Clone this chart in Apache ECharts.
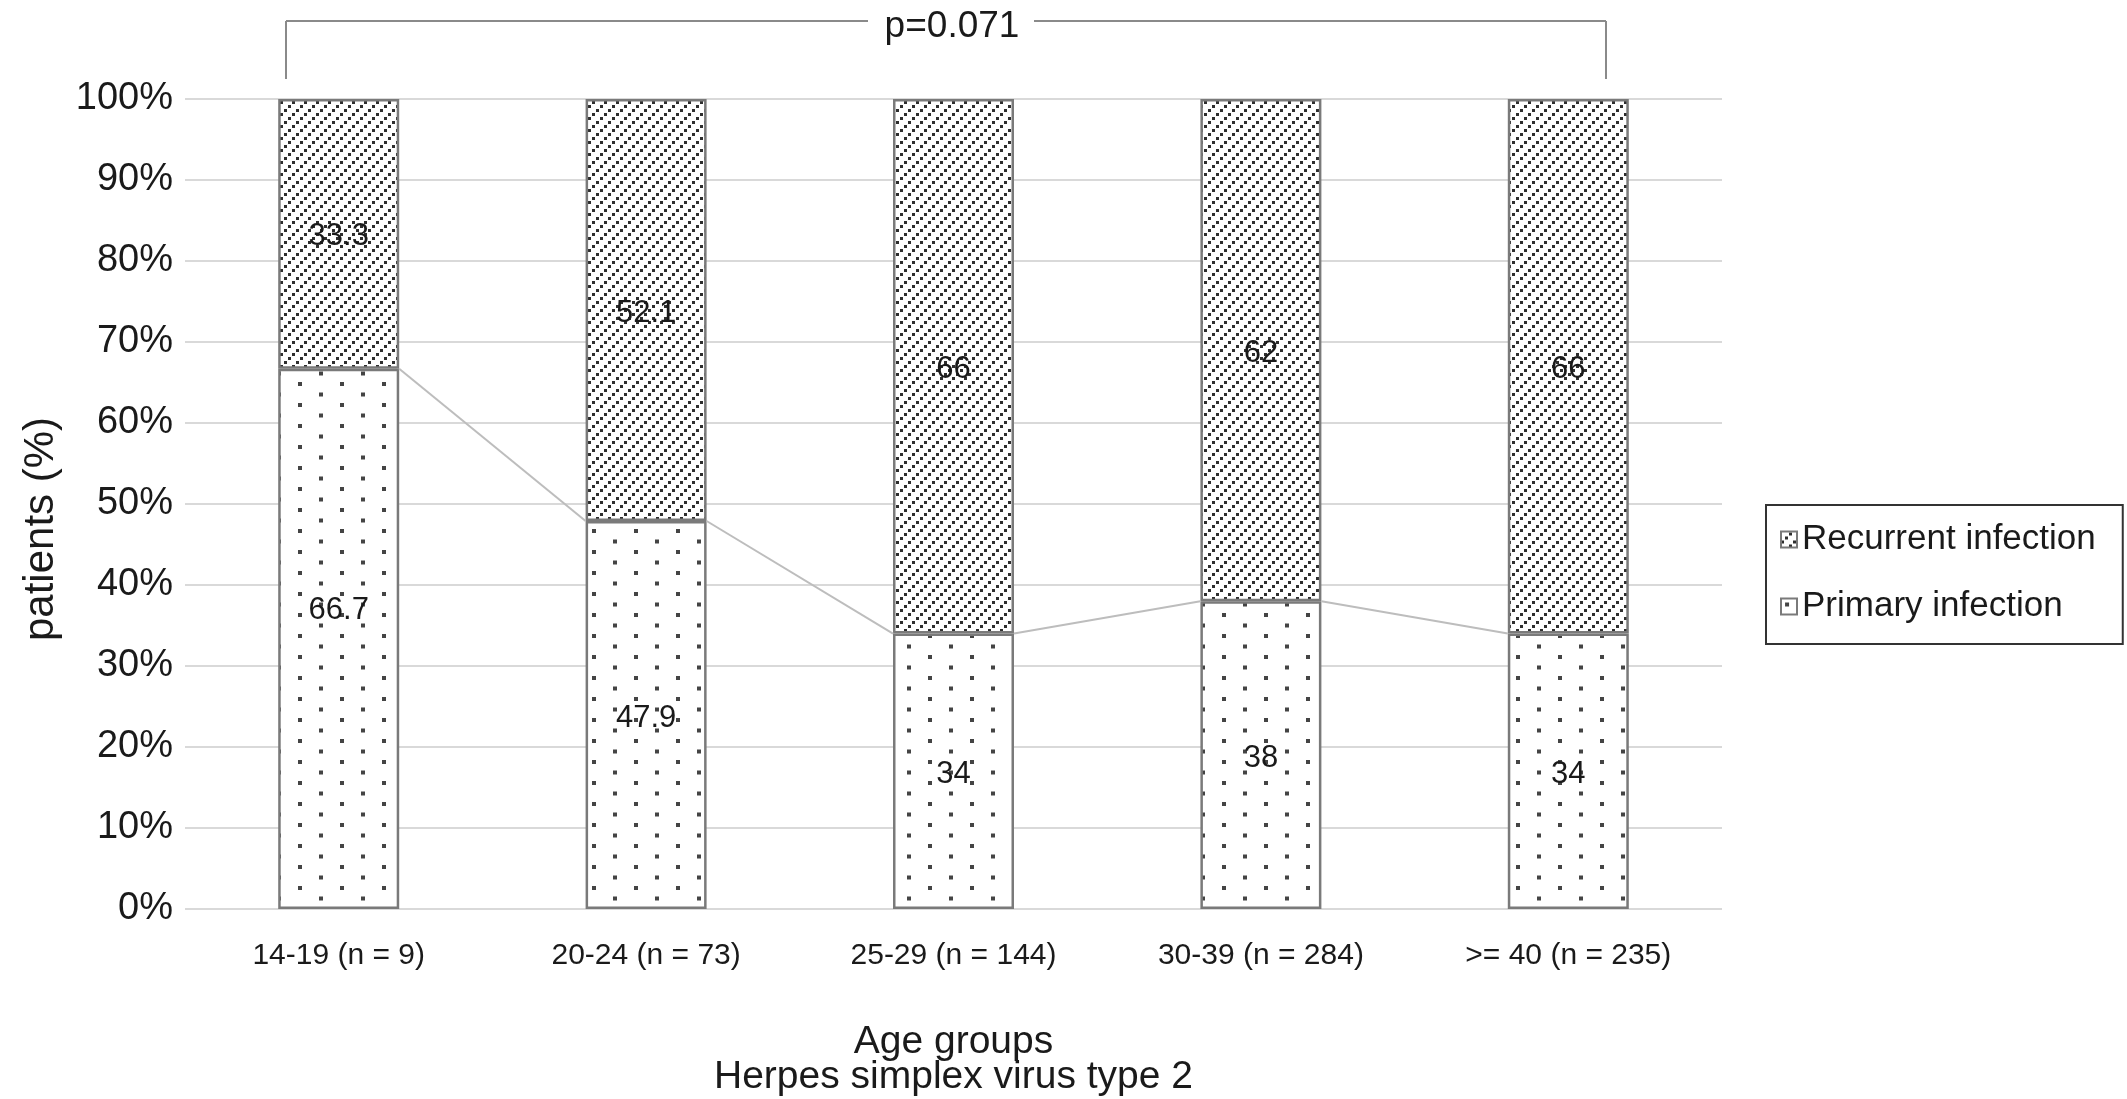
<!DOCTYPE html>
<html>
<head>
<meta charset="utf-8">
<script src="https://cdn.jsdelivr.net/npm/echarts@6/dist/echarts.min.js"></script>
<style>
html,body{margin:0;padding:0;background:#fff;}
#chart{width:2127px;height:1099px;}
</style>
</head>
<body>
<div id="chart"></div>
<script>
const categories = ['14-19 (n = 9)', '20-24 (n = 73)', '25-29 (n = 144)', '30-39 (n = 284)', '>= 40 (n = 235)'];
const primaryInfection = [66.7, 47.9, 34, 38, 34];
const recurrentInfection = [33.3, 52.1, 66, 62, 66];
const seriesNames = ['Recurrent infection', 'Primary infection'];
const yMin = 0, yMax = 100, yInterval = 10;
const pValueText = 'p=0.071';
const xAxisTitle = 'Age groups';
const subTitle = 'Herpes simplex virus type 2';
const yAxisTitle = 'patients (%)';

const FONT = '"Liberation Sans", Arial, Helvetica, sans-serif';
const BAR_W = 121;

function diagPattern() {
  const s = 12;
  const c = document.createElement('canvas');
  c.width = s; c.height = s;
  const ctx = c.getContext('2d');
  ctx.fillStyle = '#ffffff';
  ctx.fillRect(0, 0, s, s);
  ctx.fillStyle = '#2e2e2e';
  const step = s / 3;
  for (let k = 0; k < 3; k++) {
    const x = k * step;
    const y = s - 3 - k * step;
    ctx.fillRect(x, y, 3, 3);
  }
  return c;
}
function dotPattern() {
  const c = document.createElement('canvas');
  c.width = 42; c.height = 21;
  const ctx = c.getContext('2d');
  ctx.fillStyle = '#ffffff';
  ctx.fillRect(0, 0, 42, 21);
  ctx.fillStyle = '#444444';
  ctx.fillRect(4, 4, 4, 4);
  ctx.fillRect(25, 14.5, 4, 4);
  ctx.fillRect(25, -6.5, 4, 4);
  return c;
}

const chart = echarts.init(document.getElementById('chart'), null, {renderer: 'canvas'});

const connectorData = [];
for (let i = 0; i < primaryInfection.length - 1; i++) {
  connectorData.push([i, primaryInfection[i], primaryInfection[i + 1]]);
}

const primaryData = primaryInfection.map((v, i) => i === 0 ? {value: v, label: {offset: [0, -28]}} : v);

const labelStyle = {show: true, position: 'inside', fontSize: 31, color: '#1a1a1a', fontFamily: FONT, offset: [0, 3]};

const option = {
  animation: false,
  backgroundColor: '#ffffff',
  textStyle: {fontFamily: FONT},
  grid: {left: 185, right: 405, top: 99, bottom: 190, containLabel: false, outerBoundsMode: 'none'},
  legend: {
    data: seriesNames,
    orient: 'vertical',
    left: 1766, top: 505,
    padding: [17, 27, 20, 14],
    itemGap: 32,
    itemWidth: 16, itemHeight: 16,
    itemTextGap: 6,
    borderColor: '#333333', borderWidth: 2,
    icon: 'rect',
    textStyle: {fontSize: 35, color: '#1a1a1a', fontFamily: FONT, lineHeight: 30}
  },
  xAxis: {
    type: 'category',
    data: categories,
    axisLine: {show: false},
    axisTick: {show: false},
    axisLabel: {fontSize: 30, color: '#1a1a1a', margin: 32, fontFamily: FONT, interval: 0},
    name: xAxisTitle + '\n' + subTitle,
    nameLocation: 'middle',
    nameGap: 116,
    nameTextStyle: {fontSize: 39, color: '#1a1a1a', lineHeight: 35, fontFamily: FONT}
  },
  yAxis: {
    type: 'value',
    min: yMin, max: yMax, interval: yInterval,
    axisLine: {show: false},
    axisTick: {show: false},
    axisLabel: {formatter: '{value}%', fontSize: 38, color: '#1a1a1a', margin: 12, fontFamily: FONT},
    splitLine: {lineStyle: {color: '#d9d9d9', width: 2}}
  },
  series: [
    {
      name: seriesNames[1],
      type: 'bar',
      stack: 'total',
      barWidth: BAR_W,
      data: primaryData,
      itemStyle: {color: {image: dotPattern(), repeat: 'repeat'}, borderColor: '#7a7a7a', borderWidth: 2.5},
      label: labelStyle,
      z: 2
    },
    {
      name: seriesNames[0],
      type: 'bar',
      stack: 'total',
      barWidth: BAR_W,
      data: recurrentInfection,
      itemStyle: {color: {image: diagPattern(), repeat: 'repeat'}, borderColor: '#7a7a7a', borderWidth: 2.5},
      label: labelStyle,
      z: 2
    },
    {
      name: 'connector',
      type: 'custom',
      data: connectorData,
      encode: {x: 0, y: 1},
      z: 3,
      silent: true,
      renderItem: function (params, api) {
        const i = api.value(0);
        const p1 = api.coord([i, api.value(1)]);
        const p2 = api.coord([i + 1, api.value(2)]);
        const hw = BAR_W / 2;
        return {
          type: 'line',
          shape: {x1: p1[0] + hw, y1: p1[1], x2: p2[0] - hw, y2: p2[1]},
          style: {stroke: '#bdbdbd', lineWidth: 2}
        };
      }
    }
  ],
  graphic: [
    {type: 'line', shape: {x1: 286, y1: 21, x2: 868, y2: 21}, style: {stroke: '#8a8a8a', lineWidth: 2}},
    {type: 'line', shape: {x1: 1034, y1: 21, x2: 1606, y2: 21}, style: {stroke: '#8a8a8a', lineWidth: 2}},
    {type: 'line', shape: {x1: 286, y1: 21, x2: 286, y2: 79}, style: {stroke: '#8a8a8a', lineWidth: 2}},
    {type: 'line', shape: {x1: 1606, y1: 21, x2: 1606, y2: 79}, style: {stroke: '#8a8a8a', lineWidth: 2}},
    {type: 'text', x: 952, y: 27, style: {text: pValueText, fontSize: 37, fill: '#1a1a1a', fontFamily: FONT, textAlign: 'center', textVerticalAlign: 'middle'}},
    {type: 'text', x: 41, y: 529, rotation: Math.PI / 2, style: {text: yAxisTitle, fontSize: 42, fill: '#1a1a1a', fontFamily: FONT, textAlign: 'center', textVerticalAlign: 'middle'}}
  ]
};
chart.setOption(option);
</script>
</body>
</html>
